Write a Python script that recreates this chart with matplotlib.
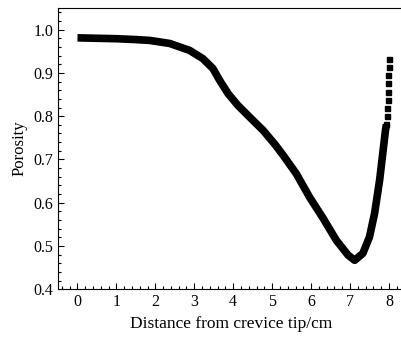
import matplotlib.pyplot as plt
from matplotlib.ticker import MultipleLocator

# porosity along the crevice
distance = [0.0, 0.5, 1.0, 1.5, 1.86, 2.37, 2.88, 3.22, 3.48, 3.65, 3.87,
            4.12, 4.42, 4.77, 5.07, 5.28, 5.62, 5.96, 6.31, 6.65, 6.95,
            7.12, 7.33, 7.50, 7.63, 7.76, 7.85, 7.91]
porosity = [0.981, 0.980, 0.979, 0.977, 0.975, 0.968, 0.952, 0.933, 0.910,
            0.883, 0.852, 0.825, 0.798, 0.767, 0.735, 0.710, 0.667, 0.613,
            0.564, 0.513, 0.479, 0.467, 0.483, 0.521, 0.575, 0.652, 0.721,
            0.767]

# separate squares near the mouth (steep part)
tip_distance = [7.935, 7.948, 7.958, 7.967, 7.975, 7.982, 7.988, 7.994,
                8.0]
tip_porosity = [0.781, 0.800, 0.819, 0.838, 0.857, 0.876, 0.895, 0.914,
                0.933]

plt.rcParams['font.family'] = ['Liberation Serif', 'DejaVu Serif']

fig = plt.figure(figsize=(4.02, 3.41), dpi=100)
ax = fig.add_axes([0.1443, 0.1516, 0.862, 0.825])

ax.plot(distance + tip_distance[:1], porosity + tip_porosity[:1],
        color='black', lw=5.5, solid_capstyle='butt', solid_joinstyle='round')
ax.plot(tip_distance, tip_porosity, ls='none', marker='s', ms=3.6,
        color='black')

ax.set_xlim(-0.5, 8.4)
ax.set_ylim(0.4, 1.05)
ax.spines['right'].set_visible(False)
ax.xaxis.set_major_locator(MultipleLocator(1))
ax.xaxis.set_minor_locator(MultipleLocator(0.2))
ax.yaxis.set_major_locator(MultipleLocator(0.1))
ax.yaxis.set_minor_locator(MultipleLocator(0.02))
ax.tick_params(which='both', direction='in', labelsize=11.5, width=0.8)
ax.tick_params(which='major', length=4.5)
ax.tick_params(which='minor', length=2.5)
ax.yaxis.set_major_formatter(plt.FormatStrFormatter('%.1f'))

ax.set_xlabel('Distance from crevice tip/cm', fontsize=12.5)
ax.set_ylabel('Porosity', fontsize=12)

fig.savefig('out.png', dpi=100)
